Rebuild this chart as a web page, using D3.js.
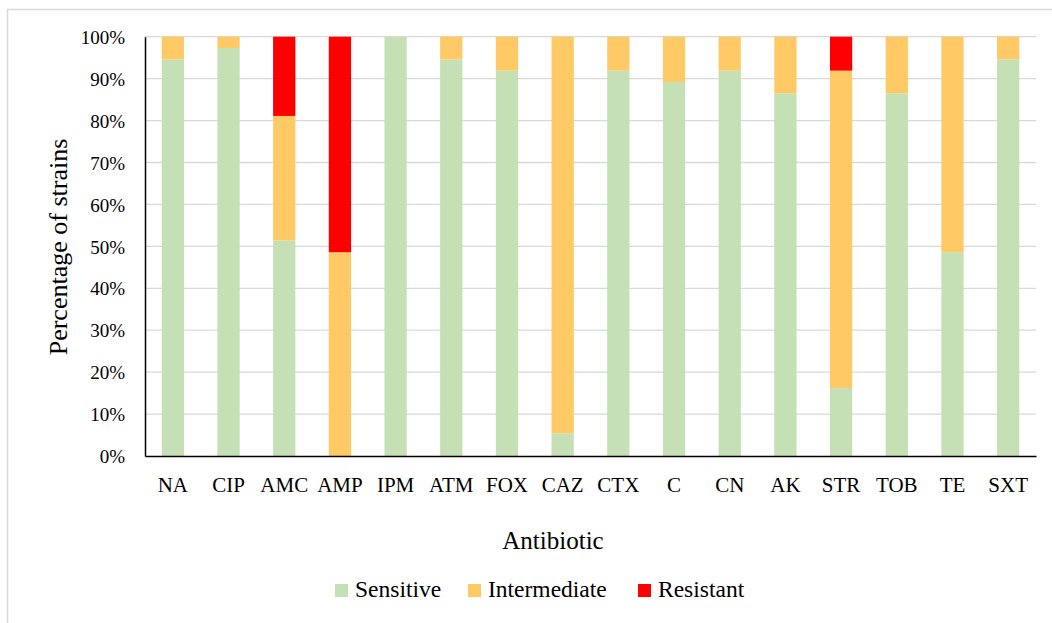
<!DOCTYPE html>
<html><head><meta charset="utf-8">
<script src="https://cdn.jsdelivr.net/npm/d3@7"></script>
<style>body{margin:0;background:#fff}svg{display:block}</style>
</head><body><svg id="c" width="1052" height="623"></svg>
<script>
const categories = ["NA","CIP","AMC","AMP","IPM","ATM","FOX","CAZ","CTX","C","CN","AK","STR","TOB","TE","SXT"];
const sensitive    = [94.6, 97.3, 51.4, 0,   100, 94.6, 91.9, 5.4,  91.9, 89.2, 91.9, 86.5, 16.2, 86.5, 48.6, 94.6];
const intermediate = [5.4,  2.7,  29.7, 48.6, 0,  5.4,  8.1,  94.6, 8.1,  10.8, 8.1,  13.5, 75.7, 13.5, 51.4, 5.4];
const resistant    = [0,    0,    18.9, 51.4, 0,  0,    0,    0,    0,    0,    0,    0,    8.1,  0,    0,    0];
const seriesNames = ["Sensitive","Intermediate","Resistant"];
const seriesColors = ["#C5E0B4","#FFCA65","#FF0000"];
const yTicks = [0,10,20,30,40,50,60,70,80,90,100];

const FONT = "'Liberation Serif','Times New Roman',serif";
const svg = d3.select("#c");
// chart border
svg.append("rect").attr("x",7.5).attr("y",9.5).attr("width",1060).attr("height",640)
  .attr("fill","none").attr("stroke","#D9D9D9").attr("stroke-width",1.5);

const L=145, R=1036, T=36.7, B=456;
const x = d3.scaleBand().domain(categories).range([L,R]).paddingInner(0.6).paddingOuter(0.3);
const y = d3.scaleLinear().domain([0,100]).range([B,T]);

// gridlines
svg.append("g").selectAll("line").data(yTicks.filter(d=>d>0)).join("line")
  .attr("x1",L).attr("x2",R).attr("y1",d=>y(d)).attr("y2",d=>y(d))
  .attr("stroke","#D9D9D9").attr("stroke-width",1.3);

const rows = categories.map((c,i)=>({cat:c,Sensitive:sensitive[i],Intermediate:intermediate[i],Resistant:resistant[i]}));
const stack = d3.stack().keys(seriesNames)(rows);
svg.append("g").selectAll("g").data(stack).join("g")
  .attr("fill",(d,i)=>seriesColors[i])
  .selectAll("rect").data(d=>d).join("rect")
  .attr("x",d=>x(d.data.cat)).attr("width",x.bandwidth())
  .attr("y",d=>y(d[1])).attr("height",d=>Math.max(0,y(d[0])-y(d[1])));

// axes
const ya = svg.append("g").attr("transform",`translate(${L},0)`)
  .call(d3.axisLeft(y).tickValues(yTicks).tickFormat(d=>d+"%").tickSize(0).tickPadding(20));
ya.attr("font-family",FONT).attr("font-size",19);
ya.select(".domain").attr("stroke","#000").attr("stroke-width",1.5);
ya.selectAll("text").attr("fill","#000").attr("dy","0.35em");

const xa = svg.append("g").attr("transform",`translate(0,${B})`)
  .call(d3.axisBottom(x).tickSize(0).tickPadding(21));
xa.attr("font-family",FONT).attr("font-size",21);
xa.select(".domain").attr("stroke","#000").attr("stroke-width",1.5);
xa.selectAll("text").attr("fill","#000");

// titles
svg.append("text").attr("transform","translate(67,247) rotate(-90)").attr("text-anchor","middle")
  .attr("font-family",FONT).attr("font-size",26).text("Percentage of strains");
svg.append("text").attr("x",553).attr("y",549).attr("text-anchor","middle")
  .attr("font-family",FONT).attr("font-size",25).text("Antibiotic");

// legend
const legX = [335,468,638];
const lg = svg.append("g").selectAll("g").data(seriesNames).join("g")
  .attr("transform",(d,i)=>`translate(${legX[i]},584)`);
lg.append("rect").attr("width",13).attr("height",13).attr("fill",(d,i)=>seriesColors[i]);
lg.append("text").attr("x",20).attr("y",12.5).attr("font-family",FONT).attr("font-size",23.5).text(d=>d);
</script></body></html>
